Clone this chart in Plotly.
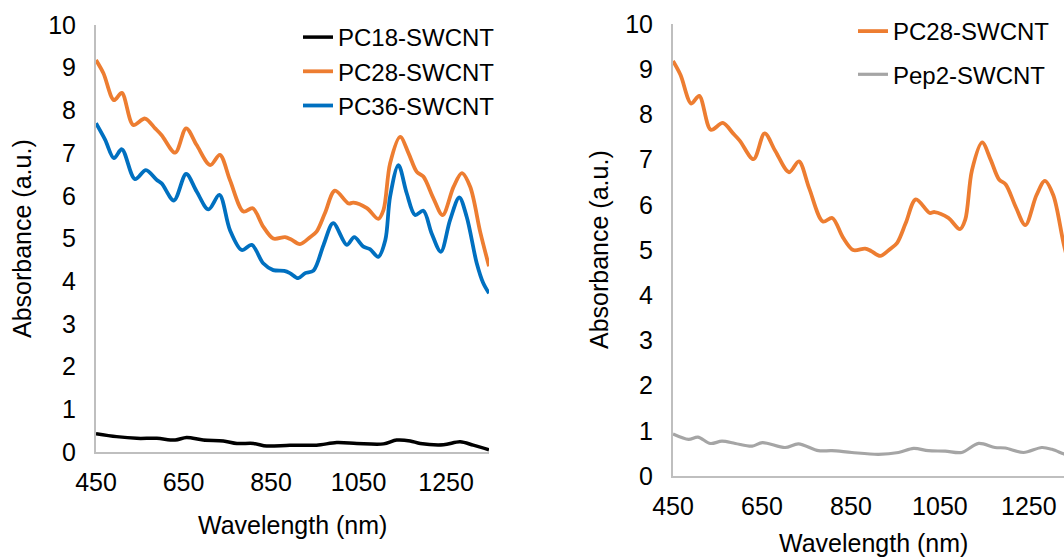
import plotly.graph_objects as go

# Absorbance spectra of peptide-wrapped SWCNT dispersions
pc18_nm = [450, 497, 543, 589, 631, 657, 695, 741, 772, 810, 840, 893, 954, 1000,
           1046, 1107, 1137, 1168, 1191, 1244, 1282, 1312, 1348]
pc18_abs = [0.43, 0.36, 0.32, 0.32, 0.28, 0.34, 0.28, 0.26, 0.20, 0.20, 0.14, 0.16, 0.16, 0.22,
            0.20, 0.19, 0.28, 0.26, 0.20, 0.17, 0.24, 0.16, 0.05]

pc28_nm = [450, 467, 491, 509, 535, 562, 585, 600, 631, 656, 680, 711, 733, 756, 787, 808,
           832, 855, 882, 895, 916, 939, 954, 973, 996, 1027, 1038, 1069, 1095, 1107, 1122,
           1145, 1164, 1183, 1198, 1221, 1242, 1267, 1286, 1305, 1328, 1348]
pc28_abs = [9.18, 8.87, 8.24, 8.41, 7.66, 7.81, 7.58, 7.42, 7.01, 7.58, 7.19, 6.72, 6.96, 6.37,
            5.63, 5.71, 5.28, 5.00, 5.03, 4.98, 4.87, 5.03, 5.16, 5.59, 6.12, 5.82, 5.84, 5.71,
            5.46, 5.67, 6.76, 7.38, 7.00, 6.56, 6.45, 5.94, 5.55, 6.21, 6.53, 6.21, 5.15, 4.35]

pc36_nm = [450, 471, 491, 509, 539, 564, 589, 600, 628, 656, 680, 707, 732, 756, 783, 806,
           832, 855, 880, 893, 912, 928, 947, 970, 992, 1023, 1040, 1061, 1076, 1095, 1111,
           1122, 1141, 1160, 1179, 1198, 1217, 1238, 1259, 1280, 1297, 1320, 1335, 1348]
pc36_abs = [7.70, 7.31, 6.88, 7.09, 6.39, 6.60, 6.37, 6.29, 5.89, 6.51, 6.10, 5.68, 6.02, 5.20,
            4.73, 4.85, 4.42, 4.26, 4.24, 4.19, 4.07, 4.19, 4.25, 4.85, 5.36, 4.85, 5.03, 4.81,
            4.75, 4.57, 4.96, 5.98, 6.72, 6.06, 5.55, 5.65, 5.12, 4.69, 5.43, 5.96, 5.51, 4.42,
            3.95, 3.72]

pep2_nm = [450, 485, 506, 534, 560, 590, 628, 651, 702, 732, 777, 807, 852, 912, 957, 991,
           1024, 1062, 1099, 1137, 1174, 1197, 1238, 1279, 1302, 1328, 1348]
pep2_abs = [0.93, 0.81, 0.86, 0.72, 0.77, 0.72, 0.66, 0.74, 0.63, 0.71, 0.56, 0.56, 0.52, 0.48,
            0.52, 0.61, 0.56, 0.55, 0.52, 0.72, 0.63, 0.62, 0.52, 0.63, 0.59, 0.49, 0.42]

x_ticks = [450, 650, 850, 1050, 1250]
y_ticks = list(range(0, 11))

ORANGE = "#ED7D31"
BLUE = "#0070C0"
BLACK = "#000000"
GREY = "#A5A5A5"
AXIS = "#BFBFBF"
FONT = "Liberation Sans, Arial, sans-serif"

W, H = 1064, 560


def px_x(p):
    return p / W


def px_y(p):
    return 1 - p / H


fig = go.Figure()

left = [("PC18-SWCNT", pc18_nm, pc18_abs, BLACK, 3.5),
        ("PC28-SWCNT", pc28_nm, pc28_abs, ORANGE, 3.8),
        ("PC36-SWCNT", pc36_nm, pc36_abs, BLUE, 3.8)]
for name, xs, ys, col, w in left:
    fig.add_trace(go.Scatter(x=xs, y=ys, name=name, mode="lines",
                             line=dict(color=col, width=w, shape="spline", smoothing=0.9),
                             xaxis="x", yaxis="y", legend="legend"))

right = [("PC28-SWCNT", pc28_nm, pc28_abs, ORANGE, 3.8, "a"),
         ("Pep2-SWCNT", pep2_nm, pep2_abs, GREY, 3.2, "b")]
for name, xs, ys, col, w, grp in right:
    fig.add_trace(go.Scatter(x=xs, y=ys, name=name, mode="lines", legendgroup=grp,
                             line=dict(color=col, width=w, shape="spline", smoothing=0.9),
                             xaxis="x2", yaxis="y2", legend="legend2"))

tick_font = dict(family=FONT, size=25, color="#000000")
common_x = dict(showline=True, linecolor=AXIS, linewidth=2, showgrid=False, zeroline=False,
                tickvals=x_ticks, ticks="", tickfont=tick_font, ticklabelstandoff=7,
                automargin=False, fixedrange=True)
common_y = dict(showline=True, linecolor=AXIS, linewidth=2, showgrid=False, zeroline=False,
                tickvals=y_ticks, range=[0, 10], ticks="", tickfont=tick_font,
                ticklabelstandoff=13, automargin=False, fixedrange=True)

fig.update_layout(
    width=W, height=H,
    margin=dict(l=0, r=0, t=0, b=0, pad=0, autoexpand=False),
    paper_bgcolor="white", plot_bgcolor="white",
    font=dict(family=FONT, color="#000000"),
    xaxis=dict(domain=[px_x(96), px_x(489)], range=[450, 1348], anchor="y", **common_x),
    yaxis=dict(domain=[px_y(452), px_y(25)], anchor="x", **common_y),
    xaxis2=dict(domain=[px_x(673), 1.0], range=[450, 1329], anchor="y2", **common_x),
    yaxis2=dict(domain=[px_y(476), px_y(24)], anchor="x2", **common_y),
    legend=dict(x=px_x(298), y=px_y(15), xanchor="left", yanchor="top",
                font=dict(family=FONT, size=24, color="#000000"),
                bgcolor="rgba(0,0,0,0)", borderwidth=0, tracegroupgap=0),
    legend2=dict(x=px_x(853), y=px_y(9), xanchor="left", yanchor="top",
                 font=dict(family=FONT, size=24, color="#000000"),
                 bgcolor="rgba(0,0,0,0)", borderwidth=0, tracegroupgap=9),
    showlegend=True,
)

title_font = dict(family=FONT, size=25, color="#000000")
fig.add_annotation(text="Wavelength (nm)", xref="paper", yref="paper",
                   x=px_x(292), y=px_y(525), showarrow=False, font=title_font,
                   xanchor="center", yanchor="middle")
fig.add_annotation(text="Wavelength (nm)", xref="paper", yref="paper",
                   x=px_x(873), y=px_y(543), showarrow=False, font=title_font,
                   xanchor="center", yanchor="middle")
fig.add_annotation(text="Absorbance (a.u.)", xref="paper", yref="paper",
                   x=px_x(22), y=px_y(239), showarrow=False, font=title_font,
                   textangle=-90, xanchor="center", yanchor="middle")
fig.add_annotation(text="Absorbance (a.u.)", xref="paper", yref="paper",
                   x=px_x(599), y=px_y(250), showarrow=False, font=title_font,
                   textangle=-90, xanchor="center", yanchor="middle")

fig.write_html("out.html", config={"displayModeBar": False})
